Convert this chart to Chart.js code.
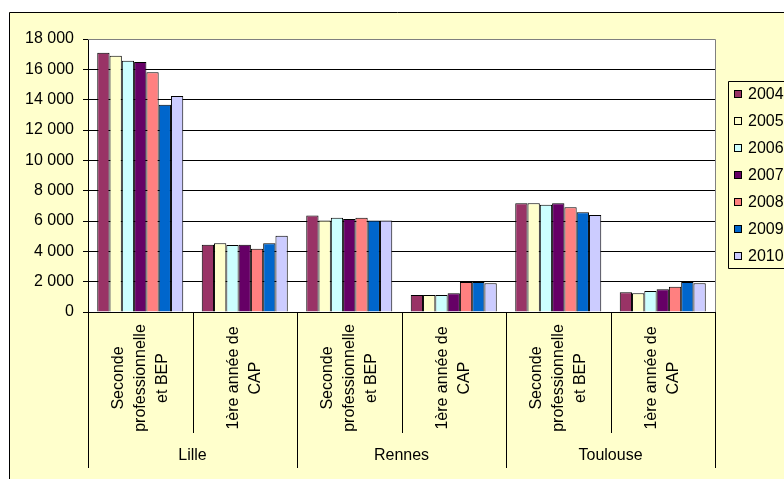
<!DOCTYPE html>
<html>
<head>
<meta charset="utf-8">
<script src="https://cdn.jsdelivr.net/npm/chart.js@4.4.1/dist/chart.umd.min.js"></script>
<style>
  html, body { margin: 0; padding: 0; background: #ffffff; }
  canvas { display: block; }
</style>
</head>
<body>
<canvas id="barChart" width="784" height="479"></canvas>
<script>
// categories: lines of each rotated label, grouped by city
const categories = [
  ['Seconde', 'professionnelle', 'et BEP'],
  ['1ère année de', 'CAP'],
  ['Seconde', 'professionnelle', 'et BEP'],
  ['1ère année de', 'CAP'],
  ['Seconde', 'professionnelle', 'et BEP'],
  ['1ère année de', 'CAP']
];
const groups = ['Lille', 'Rennes', 'Toulouse'];
const years = ['2004', '2005', '2006', '2007', '2008', '2009', '2010'];

const values2004 = [17100, 4440, 6370, 1120, 7170, 1300];
const values2005 = [16900, 4530, 6040, 1120, 7170, 1230];
const values2006 = [16570, 4420, 6220, 1120, 7070, 1380];
const values2007 = [16480, 4440, 6130, 1230, 7170, 1500];
const values2008 = [15800, 4170, 6220, 1980, 6900, 1670];
const values2009 = [13670, 4530, 6040, 1980, 6570, 1980];
const values2010 = [14240, 5030, 6040, 1890, 6390, 1890];

const yTicks = [0, 2000, 4000, 6000, 8000, 10000, 12000, 14000, 16000, 18000];

const colors = ['#993366', '#ffffcc', '#ccffff', '#660066', '#ff8080', '#0066cc', '#ccccff'];
const seriesValues = [values2004, values2005, values2006, values2007, values2008, values2009, values2010];

const FONT = '16px "Liberation Sans", Arial, sans-serif';
const CHART_BG = '#ffffcc';

const formatThousands = v => String(v).replace(/\B(?=(\d{3})+(?!\d))/g, ' ');

// background, plot area and frame
const backgroundPlugin = {
  id: 'background',
  beforeDraw(chart) {
    const { ctx, chartArea: a, width, height } = chart;
    ctx.save();
    ctx.fillStyle = '#ffffff';
    ctx.fillRect(0, 0, width, height);
    ctx.fillStyle = CHART_BG;
    ctx.fillRect(9, 12, width, height);
    ctx.strokeStyle = '#000000';
    ctx.lineWidth = 1;
    ctx.beginPath();
    ctx.moveTo(9.5, height + 2);
    ctx.lineTo(9.5, 12.5);
    ctx.lineTo(width + 2, 12.5);
    ctx.stroke();
    ctx.fillStyle = '#ffffff';
    ctx.fillRect(a.left, a.top, a.right - a.left, a.bottom - a.top);
    ctx.restore();
  },
  afterDraw(chart) {
    const { ctx, chartArea: a } = chart;
    ctx.save();
    ctx.strokeStyle = '#808080';
    ctx.lineWidth = 1;
    ctx.beginPath();
    ctx.moveTo(a.left, a.top + 0.5);
    ctx.lineTo(a.right + 0.5, a.top + 0.5);
    ctx.lineTo(a.right + 0.5, a.bottom);
    ctx.stroke();
    ctx.restore();
  }
};

// two-level category axis: rotated sub labels and city names
const categoryAxisPlugin = {
  id: 'categoryAxis',
  afterDraw(chart) {
    const { ctx } = chart;
    const x = chart.scales.x;
    const bottom = chart.chartArea.bottom;
    const step = x.width / categories.length;
    ctx.save();
    ctx.strokeStyle = '#000000';
    ctx.lineWidth = 1;
    ctx.fillStyle = '#000000';
    ctx.font = FONT;

    for (let i = 0; i <= categories.length; i++) {
      const px = Math.round(x.left + i * step) + 0.5;
      const end = i % 2 === 0 ? 468 : 433;
      ctx.beginPath();
      ctx.moveTo(px, bottom);
      ctx.lineTo(px, end);
      ctx.stroke();
    }

    categories.forEach((lines, i) => {
      const cx = x.getPixelForValue(i);
      const spacing = 22;
      lines.forEach((line, j) => {
        const off = (j - (lines.length - 1) / 2) * spacing;
        ctx.save();
        ctx.translate(cx + off, 378);
        ctx.rotate(-Math.PI / 2);
        ctx.textAlign = 'center';
        ctx.textBaseline = 'middle';
        ctx.fillText(line, 0, 0);
        ctx.restore();
      });
    });

    ctx.textAlign = 'center';
    ctx.textBaseline = 'middle';
    groups.forEach((g, k) => {
      const cx = x.left + (2 * k + 1) * step;
      ctx.fillText(g, cx, 456);
    });
    ctx.restore();
  }
};

// legend box on the right, partly cut by the page edge
const legendPlugin = {
  id: 'sideLegend',
  afterDraw(chart) {
    const { ctx, width } = chart;
    ctx.save();
    ctx.fillStyle = CHART_BG;
    ctx.fillRect(728, 81, width, 188);
    ctx.strokeStyle = '#000000';
    ctx.lineWidth = 1;
    ctx.beginPath();
    ctx.moveTo(width + 2, 81.5);
    ctx.lineTo(728.5, 81.5);
    ctx.lineTo(728.5, 268.5);
    ctx.lineTo(width + 2, 268.5);
    ctx.stroke();
    ctx.font = FONT;
    ctx.textAlign = 'left';
    ctx.textBaseline = 'middle';
    chart.data.datasets.forEach((ds, i) => {
      const cy = 94 + i * 27;
      ctx.fillStyle = ds.backgroundColor;
      ctx.fillRect(734, cy - 4, 8, 8);
      ctx.strokeStyle = '#000000';
      ctx.strokeRect(734.5, cy - 3.5, 7, 7);
      ctx.fillStyle = '#000000';
      ctx.fillText(ds.label, 748, cy + 1);
    });
    ctx.restore();
  }
};

new Chart(document.getElementById('barChart'), {
  type: 'bar',
  data: {
    labels: categories.map(c => c.join(' ')),
    datasets: years.map((year, i) => ({
      label: year,
      data: seriesValues[i],
      backgroundColor: colors[i],
      borderColor: '#000000',
      borderWidth: 1,
      categoryPercentage: 0.823,
      barPercentage: 1.0
    }))
  },
  options: {
    responsive: false,
    animation: false,
    devicePixelRatio: 1,
    layout: { padding: { top: 39, right: 69, left: 0, bottom: 0 } },
    plugins: {
      legend: { display: false },
      tooltip: { enabled: false }
    },
    scales: {
      x: {
        grid: { display: false },
        border: { display: true, color: '#000000', width: 1 },
        ticks: { display: false },
        afterFit: scale => { scale.height = 167; }
      },
      y: {
        min: 0,
        max: 18000,
        afterBuildTicks: scale => { scale.ticks = yTicks.map(v => ({ value: v })); },
        grid: {
          color: c => (c.tick && c.tick.value === 18000 ? '#808080' : '#000000'),
          tickColor: '#000000',
          tickLength: 5,
          lineWidth: 1
        },
        border: { display: true, color: '#000000', width: 1 },
        ticks: {
          color: '#000000',
          font: { family: '"Liberation Sans", Arial, sans-serif', size: 16 },
          padding: 9,
          callback: v => formatThousands(v)
        },
        afterFit: scale => { scale.width = 88; }
      }
    }
  },
  plugins: [backgroundPlugin, categoryAxisPlugin, legendPlugin]
});
</script>
</body>
</html>
